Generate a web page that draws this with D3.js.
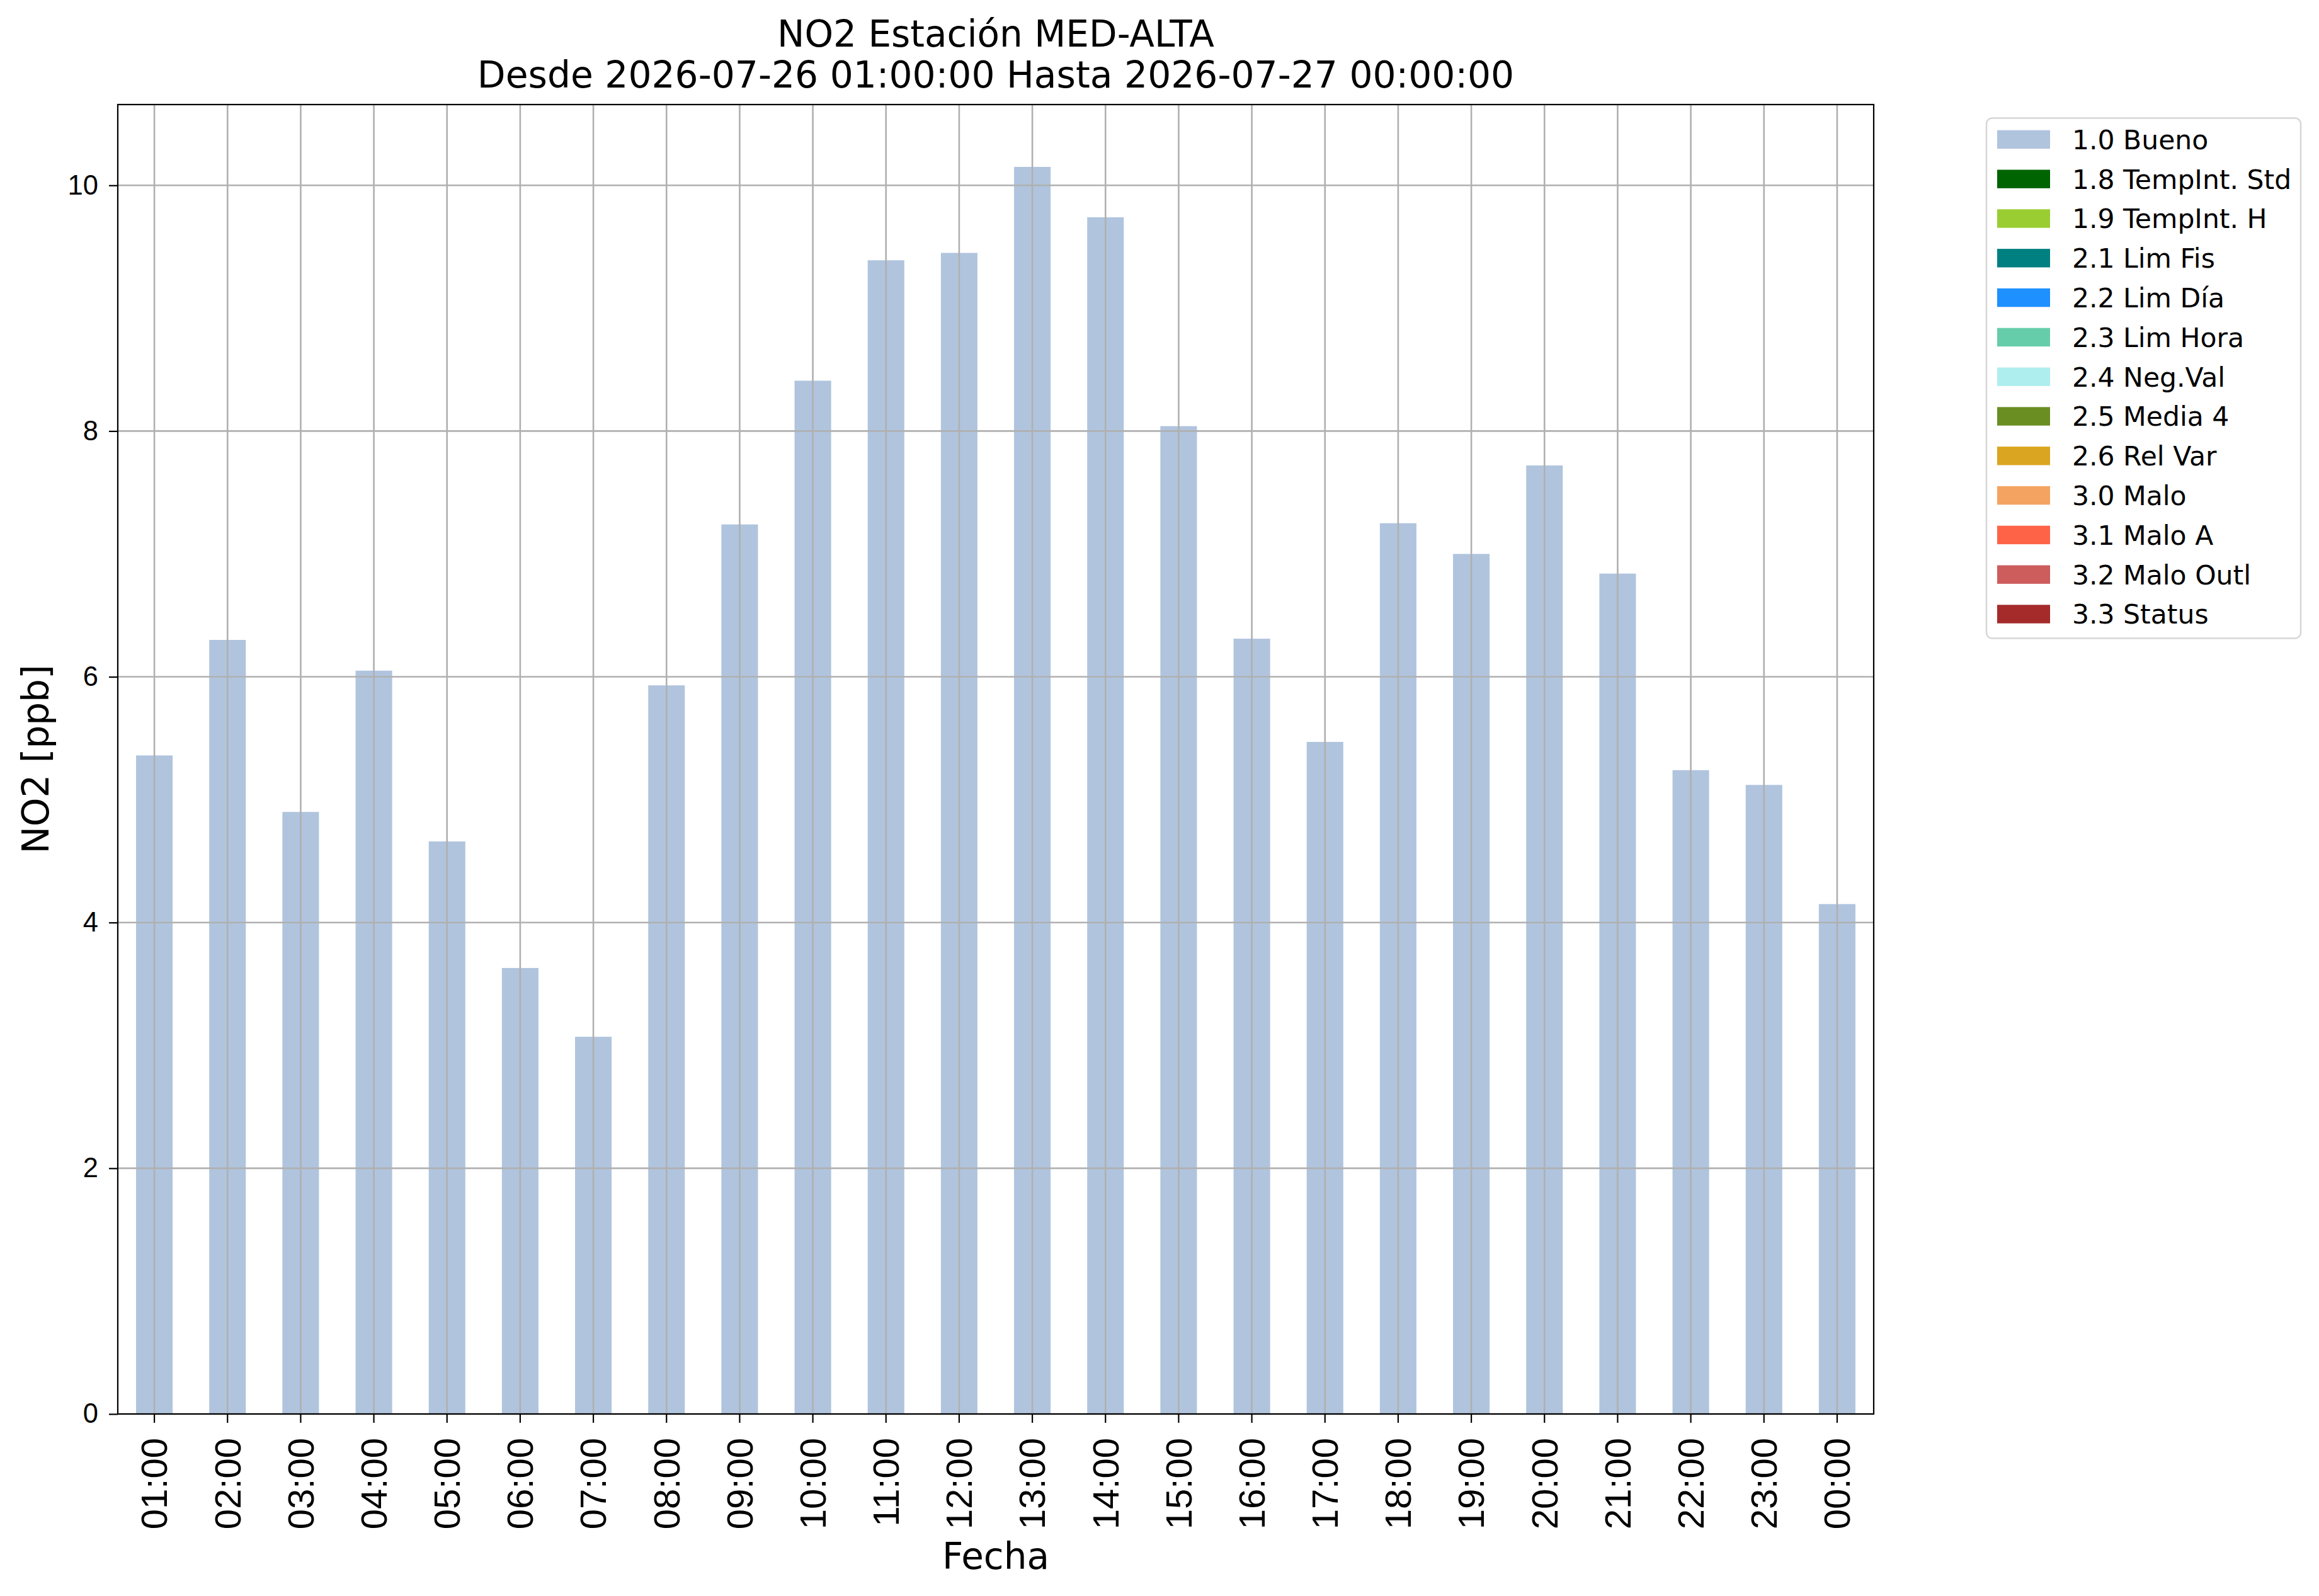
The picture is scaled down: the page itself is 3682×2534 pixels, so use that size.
<!DOCTYPE html>
<html>
<head>
<meta charset="utf-8">
<script src="https://cdn.jsdelivr.net/npm/d3@7"></script>
<style>
  body { margin: 0; background: #fff; }
  svg { display: block; font-family: "DejaVu Sans", sans-serif; }
</style>
</head>
<body>
<svg width="3682" height="2534"></svg>
<script>
var hours = ['01:00','02:00','03:00','04:00','05:00','06:00','07:00','08:00',
    '09:00','10:00','11:00','12:00','13:00','14:00','15:00','16:00',
    '17:00','18:00','19:00','20:00','21:00','22:00','23:00','00:00'];
var no2 = [5.36, 6.30, 4.90, 6.05, 4.66, 3.63, 3.07, 5.93,
    7.24, 8.41, 9.39, 9.45, 10.15, 9.74, 8.04, 6.31,
    5.47, 7.25, 7.00, 7.72, 6.84, 5.24, 5.12, 4.15];
var yTicks = [0, 2, 4, 6, 8, 10];
var flagNames = ['1.0 Bueno','1.8 TempInt. Std','1.9 TempInt. H','2.1 Lim Fis','2.2 Lim Día',
    '2.3 Lim Hora','2.4 Neg.Val','2.5 Media 4','2.6 Rel Var','3.0 Malo','3.1 Malo A',
    '3.2 Malo Outl','3.3 Status'];
var flagColors = ['#b0c4de','#006400','#9acd32','#008080','#1e90ff','#66cdaa','#afeeee',
    '#6b8e23','#daa520','#f4a460','#ff6347','#cd5c5c','#a52a2a'];

var svg = d3.select('svg');
// plot box (window.top is reserved, so use other names)
var pLeft = 187, pRight = 2975, pTop = 166, pBottom = 2245;

svg.append('rect').attr('width', 3682).attr('height', 2534).attr('fill', '#fff');

// scales
var x = d3.scaleBand().domain(hours).range([pLeft, pRight]).paddingInner(0.5).paddingOuter(0.25);
var y = d3.scaleLinear().domain([0, d3.max(no2) * 1.05]).range([pBottom, pTop]);

// bars
svg.append('g').selectAll('rect')
    .data(no2)
    .enter().append('rect')
    .attr('x', (d,i) => x(hours[i]))
    .attr('y', d => y(d))
    .attr('width', x.bandwidth())
    .attr('height', d => y(0) - y(d))
    .attr('fill', '#b0c4de');

// grid (drawn above the bars like matplotlib)
var grid = svg.append('g').attr('stroke', '#b0b0b0').attr('stroke-width', 2.6);
grid.selectAll('.gx').data(hours).enter().append('line')
    .attr('x1', d => x(d) + x.bandwidth()/2).attr('x2', d => x(d) + x.bandwidth()/2)
    .attr('y1', pTop).attr('y2', pBottom);
grid.selectAll('.gy').data(yTicks).enter().append('line')
    .attr('x1', pLeft).attr('x2', pRight)
    .attr('y1', d => y(d)).attr('y2', d => y(d));

// axes
var xAxis = d3.axisBottom(x).tickSize(14).tickPadding(0).tickSizeOuter(0);
var gx = svg.append('g').attr('transform', 'translate(0,' + pBottom + ')').call(xAxis);
gx.select('.domain').remove();
gx.selectAll('.tick line').attr('stroke', '#000').attr('stroke-width', 2.2);
gx.selectAll('.tick text')
    .attr('transform', 'translate(0,38) rotate(-90)')
    .attr('y', 0).attr('dy', '0.35em')
    .style('text-anchor', 'end')
    .style('font-size', '58px')
    .attr('fill', '#000');

var yAxis = d3.axisLeft(y).tickValues(yTicks).tickSize(14).tickPadding(17).tickSizeOuter(0);
var gy = svg.append('g').attr('transform', 'translate(' + pLeft + ',0)').call(yAxis);
gy.select('.domain').remove();
gy.selectAll('.tick line').attr('stroke', '#000').attr('stroke-width', 2.2);
gy.selectAll('.tick text').style('font-size', '43.5px').attr('fill', '#000');

// frame
svg.append('rect')
    .attr('x', pLeft).attr('y', pTop)
    .attr('width', pRight - pLeft).attr('height', pBottom - pTop)
    .attr('fill', 'none').attr('stroke', '#000').attr('stroke-width', 2.2);

// titles and labels
var cx = (pLeft + pRight) / 2;
svg.append('text').attr('x', cx).attr('y', 74)
    .style('text-anchor', 'middle').style('font-size', '58px')
    .text('NO2 Estación MED-ALTA');
svg.append('text').attr('x', cx).attr('y', 139)
    .style('text-anchor', 'middle').style('font-size', '58.3px')
    .text('Desde 2026-07-26 01:00:00 Hasta 2026-07-27 00:00:00');
svg.append('text').attr('x', cx).attr('y', 2491)
    .style('text-anchor', 'middle').style('font-size', '58px')
    .text('Fecha');
svg.append('text')
    .attr('transform', 'translate(77,' + (pTop + pBottom)/2 + ') rotate(-90)')
    .style('text-anchor', 'middle').style('font-size', '58px')
    .text('NO2 [ppb]');

// legend
var leg = svg.append('g');
leg.append('rect')
    .attr('x', 3154).attr('y', 187.5).attr('width', 499).attr('height', 826)
    .attr('rx', 9).attr('fill', '#fff').attr('stroke', '#d6d6d6').attr('stroke-width', 2.5);
var rowY = d3.scaleLinear().domain([0, flagNames.length - 1]).range([221.4, 975]);
var item = leg.selectAll('.item')
    .data(flagNames)
    .enter().append('g')
    .attr('transform', (d,i) => 'translate(0,' + rowY(i) + ')');
item.append('rect')
    .attr('x', 3171).attr('y', -14.7).attr('width', 84).attr('height', 29.4)
    .attr('fill', (d,i) => flagColors[i]);
item.append('text')
    .attr('x', 3290).attr('dy', '0.36em')
    .style('font-size', '42.5px')
    .text(d => d);
</script>
</body>
</html>
